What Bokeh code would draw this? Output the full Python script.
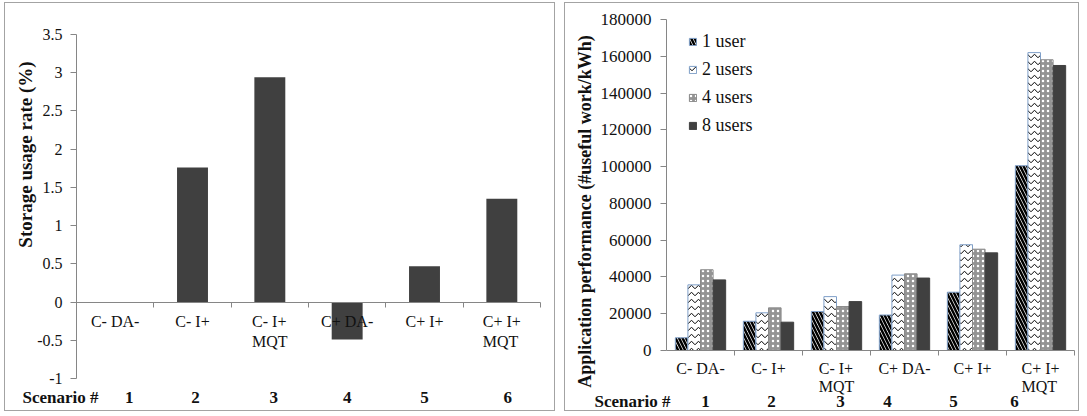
from bokeh.plotting import figure
from bokeh.layouts import row
from bokeh.models import (Range1d, FixedTicker, Label, LabelSet, ColumnDataSource,
                          BasicTickFormatter)
from bokeh.core.properties import value
from bokeh.embed import file_html
from bokeh.resources import INLINE
import math

# ---------------- data ----------------
scenario_names = ["C- DA-", "C- I+", "C- I+\nMQT", "C+ DA-", "C+ I+", "C+ I+\nMQT"]
scenario_numbers = ["1", "2", "3", "4", "5", "6"]

storage_rate = [0, 1.76, 2.94, -0.49, 0.47, 1.35]
storage_ticks = [-1, -0.5, 0, 0.5, 1, 1.5, 2, 2.5, 3, 3.5]

user_labels = ["1 user", "2 users", "4 users", "8 users"]
perf_1_user = [6900, 15900, 21200, 19300, 31700, 100500]
perf_2_users = [35700, 20500, 29300, 41000, 57500, 162000]
perf_4_users = [43900, 23200, 23900, 41700, 55100, 158100]
perf_8_users = [38400, 15400, 26600, 39400, 53100, 155000]
perf_ticks = [0, 20000, 40000, 60000, 80000, 100000, 120000, 140000, 160000, 180000]

# ---------------- styling ----------------
SERIF = "Liberation Serif"
INK = "#111111"
AXIS_GREY = "#868686"
DARK = "#404040"
EDGE_BLUE = "#7f9fc8"
PANEL_BORDER = {"border": "1px solid #a3a3a3"}

n_cat = len(scenario_names)
centers = [i + 0.5 for i in range(n_cat)]
boundaries = [i + 1 for i in range(n_cat)]

# small horizontal nudges (px) for the scenario-number row
left_num_nudge = [14, 3, 4, 0, 0, 6]
right_num_nudge = [5, 3, 4, -17, -19, -26]


def padded_range(lo, hi, size_px, pad_lo_px, pad_hi_px):
    """Range whose [lo, hi] part sits pad_lo_px / pad_hi_px inside the canvas edges."""
    scale = (size_px - pad_lo_px - pad_hi_px) / (hi - lo)
    return Range1d(lo - pad_lo_px / scale, hi + pad_hi_px / scale)


def make_panel(width, height, y_lo, y_hi, pads):
    left, right, top, bottom = pads
    p = figure(width=width, height=height,
               x_range=padded_range(0, n_cat, width, left, right),
               y_range=padded_range(y_lo, y_hi, height, bottom, top),
               output_backend="svg", toolbar_location=None,
               min_border=0, min_border_left=0, min_border_right=0,
               min_border_top=0, min_border_bottom=0)
    p.styles = PANEL_BORDER
    p.xgrid.visible = False
    p.ygrid.visible = False
    p.outline_line_color = None
    for ax in (p.xaxis[0], p.yaxis[0]):
        ax.axis_line_color = AXIS_GREY
        ax.major_tick_line_color = AXIS_GREY
        ax.major_tick_in = 0
        ax.minor_tick_in = 0
        ax.minor_tick_out = 0
        ax.major_label_text_font = SERIF
        ax.major_label_text_color = INK
    # category axis on the zero line, ticks between categories
    xa = p.xaxis[0]
    xa.fixed_location = 0
    xa.bounds = (0, n_cat)
    xa.ticker = FixedTicker(ticks=boundaries)
    xa.major_tick_out = 5
    xa.major_label_text_color = None
    # value axis at the left edge of the category span
    ya = p.yaxis[0]
    ya.fixed_location = 0
    ya.bounds = (y_lo, y_hi)
    ya.major_tick_out = 6
    return p


# ---------------- left panel: storage usage rate ----------------
p1 = make_panel(551, 409, -1, 3.5, (71, 16, 31, 34))
p1.margin = (2, 0, 0, 4)
p1.yaxis[0].ticker = FixedTicker(ticks=storage_ticks)
p1.yaxis[0].major_label_overrides = {t: f"{t:g}" for t in storage_ticks}
p1.yaxis[0].major_label_text_font_size = "16px"
p1.yaxis[0].major_label_standoff = 8

p1.vbar(x=centers, top=storage_rate, bottom=0, width=0.4,
        fill_color=DARK, line_color=None)

left_src = ColumnDataSource(dict(x=centers, y=[0] * n_cat, name=scenario_names,
                                 num=scenario_numbers, nudge=left_num_nudge))
p1.add_layout(LabelSet(x="x", y="y", text="name", source=left_src,
                       text_align="center", text_baseline="top", y_offset=-11,
                       text_font=value(SERIF), text_font_size=value("16px"),
                       text_line_height=1.15, text_color=INK))
p1.add_layout(LabelSet(x="x", y=15, y_units="screen", text="num", source=left_src,
                       x_offset="nudge", text_align="center", text_baseline="middle",
                       text_font=value(SERIF), text_font_size=value("17px"),
                       text_font_style="bold", text_color=INK))
p1.add_layout(Label(x=17, y=15, x_units="screen", y_units="screen", text="Scenario #",
                    text_align="left", text_baseline="middle", text_font=SERIF,
                    text_font_size="17px", text_font_style="bold", text_color=INK))
p1.add_layout(Label(x=20, y=258, x_units="screen", y_units="screen",
                    text="Storage usage rate (%)", angle=math.pi / 2,
                    text_align="center", text_baseline="middle", text_font=SERIF,
                    text_font_size="19px", text_font_style="bold", text_color=INK))

# ---------------- right panel: application performance ----------------
p2 = make_panel(515, 409, 0, 180000, (101, 6, 16, 62))
p2.margin = (2, 0, 0, 9)
p2.yaxis[0].ticker = FixedTicker(ticks=perf_ticks)
p2.yaxis[0].formatter = BasicTickFormatter(use_scientific=False)
p2.yaxis[0].major_label_text_font_size = "17px"
p2.yaxis[0].major_label_standoff = 9

bar_w = 0.185
series = [perf_1_user, perf_2_users, perf_4_users, perf_8_users]
series_style = [
    dict(fill_color="white", hatch_pattern="left_diagonal_line", hatch_color="black",
         hatch_weight=2.5, hatch_scale=7, line_color=EDGE_BLUE),
    dict(fill_color="white", hatch_pattern="horizontal_wave", hatch_color="black",
         hatch_weight=1.0, hatch_scale=7, line_color=EDGE_BLUE),
    dict(fill_color="#949494", hatch_pattern="dot", hatch_color="white",
         hatch_weight=1.5, hatch_scale=5, line_color="#8a8a8a"),
    dict(fill_color=DARK, line_color=DARK),
]
for j, (vals, label, sty) in enumerate(zip(series, user_labels, series_style)):
    xs = [c + (j - 1.5) * bar_w for c in centers]
    p2.vbar(x=xs, top=vals, bottom=0, width=bar_w, line_width=1,
            legend_label=label, **sty)

lg = p2.legend[0]
lg.location = (123, 276)
lg.padding = 0
lg.margin = 0
lg.spacing = 7
lg.glyph_width = 9
lg.glyph_height = 9
lg.label_height = 20
lg.label_standoff = 5
lg.border_line_color = None
lg.background_fill_alpha = 0
lg.label_text_font = SERIF
lg.label_text_font_size = "18px"
lg.label_text_color = INK

right_src = ColumnDataSource(dict(x=centers, y=[0] * n_cat, name=scenario_names,
                                  num=scenario_numbers, nudge=right_num_nudge))
p2.add_layout(LabelSet(x="x", y="y", text="name", source=right_src,
                       text_align="center", text_baseline="top", y_offset=-9,
                       text_font=value(SERIF), text_font_size=value("16px"),
                       text_line_height=1.1, text_color=INK))
p2.add_layout(LabelSet(x="x", y=11, y_units="screen", text="num", source=right_src,
                       x_offset="nudge", text_align="center", text_baseline="middle",
                       text_font=value(SERIF), text_font_size=value("17px"),
                       text_font_style="bold", text_color=INK))
p2.add_layout(Label(x=29, y=11, x_units="screen", y_units="screen", text="Scenario #",
                    text_align="left", text_baseline="middle", text_font=SERIF,
                    text_font_size="17px", text_font_style="bold", text_color=INK))
p2.add_layout(Label(x=19, y=201, x_units="screen", y_units="screen",
                    text="Application performance (#useful work/kWh)", angle=math.pi / 2,
                    text_align="center", text_baseline="middle", text_font=SERIF,
                    text_font_size="18px", text_font_style="bold", text_color=INK))

layout = row(p1, p2)
open("out.html", "w").write(file_html(layout, INLINE))
